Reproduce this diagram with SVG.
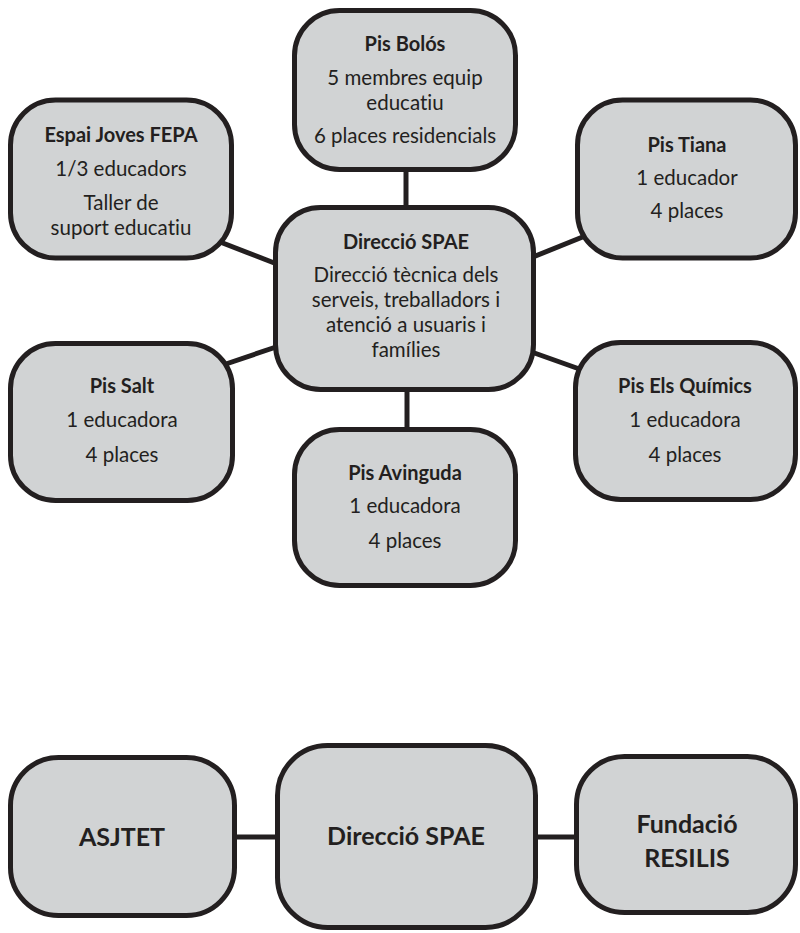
<svg xmlns="http://www.w3.org/2000/svg" width="800" height="933" viewBox="0 0 800 933">
<style>
.box{fill:#d1d3d4;stroke:#231f20;stroke-width:5}
.c{stroke:#231f20;stroke-width:5;fill:none}
text{font-family:Lato,"Open Sans","Liberation Sans",sans-serif;fill:#231f20;text-anchor:middle;font-variant-ligatures:none}
.t{font-weight:700;font-size:20px}
.b{font-size:20.5px}
.big{font-weight:700;font-size:25px}
</style>
<rect width="800" height="933" fill="#ffffff"/>
<g id="connectors">
<line class="c" x1="406" y1="165" x2="406" y2="212"/>
<line class="c" x1="215" y1="240" x2="282" y2="266"/>
<line class="c" x1="528" y1="259" x2="590" y2="234"/>
<line class="c" x1="220" y1="366" x2="282" y2="345"/>
<line class="c" x1="526" y1="350" x2="585" y2="371"/>
<line class="c" x1="407" y1="385" x2="407" y2="434"/>
<line class="c" x1="230" y1="837" x2="282" y2="837"/>
<line class="c" x1="530" y1="837" x2="582" y2="837"/>
</g>
<g id="pis-bolos">
<rect class="box" x="294.5" y="10.5" width="221" height="159" rx="45"/>
<text class="t" x="405" y="51">Pis Bolós</text>
<text class="b" x="405" y="85">5 membres equip</text>
<text class="b" x="405" y="110">educatiu</text>
<text class="b" x="405" y="143">6 places residencials</text>
</g>
<g id="espai-joves">
<rect class="box" x="10.5" y="100" width="221" height="158" rx="45"/>
<text class="t" x="121" y="142">Espai Joves FEPA</text>
<text class="b" x="121" y="176">1/3 educadors</text>
<text class="b" x="121" y="210">Taller de</text>
<text class="b" x="121" y="235">suport educatiu</text>
</g>
<g id="pis-tiana">
<rect class="box" x="577.5" y="100" width="218" height="158" rx="45"/>
<text class="t" x="687" y="152">Pis Tiana</text>
<text class="b" x="687" y="185">1 educador</text>
<text class="b" x="687" y="218">4 places</text>
</g>
<g id="direccio-spae">
<rect class="box" x="275.5" y="207.5" width="258" height="182" rx="45"/>
<text class="t" x="406" y="249">Direcció SPAE</text>
<text class="b" x="406" y="282">Direcció tècnica dels</text>
<text class="b" x="406" y="307">serveis, treballadors i</text>
<text class="b" x="406" y="332">atenció a usuaris i</text>
<text class="b" x="406" y="357">famílies</text>
</g>
<g id="pis-salt">
<rect class="box" x="10.5" y="343.5" width="222" height="157" rx="45"/>
<text class="t" x="122" y="393">Pis Salt</text>
<text class="b" x="122" y="427">1 educadora</text>
<text class="b" x="122" y="462">4 places</text>
</g>
<g id="pis-els-quimics">
<rect class="box" x="575.5" y="342.5" width="220" height="157" rx="45"/>
<text class="t" x="685" y="393">Pis Els Químics</text>
<text class="b" x="685" y="427">1 educadora</text>
<text class="b" x="685" y="462">4 places</text>
</g>
<g id="pis-avinguda">
<rect class="box" x="294.5" y="429.5" width="221" height="156" rx="45"/>
<text class="t" x="405" y="480">Pis Avinguda</text>
<text class="b" x="405" y="513">1 educadora</text>
<text class="b" x="405" y="548">4 places</text>
</g>
<g id="asjtet">
<rect class="box" x="10.5" y="757.5" width="224" height="158" rx="48"/>
<text class="big" x="122" y="846">ASJTET</text>
</g>
<g id="direccio-spae-2">
<rect class="box" x="277.5" y="745.5" width="258" height="182" rx="50"/>
<text class="big" x="406" y="845">Direcció SPAE</text>
</g>
<g id="fundacio-resilis">
<rect class="box" x="576.5" y="756.5" width="219" height="156" rx="48"/>
<text class="big" x="687" y="833">Fundació</text>
<text class="big" x="687" y="867">RESILIS</text>
</g>
</svg>
